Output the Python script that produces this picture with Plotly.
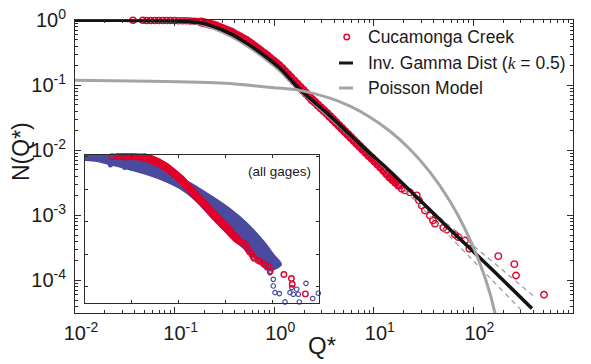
import numpy as np
import plotly.graph_objects as go

# ---------------- data (log10 values) ----------------
# Cucamonga Creek exceedance data, main panel (log10 Q*, log10 N)
# flat part (individual rings)
creek_flat_logq = [-1.418, -1.32, -1.28, -1.24, -1.20, -1.16, -1.12, -1.08, -1.04, -1.00, -0.96, -0.92,
                   -0.88, -0.84, -0.80, -0.76]
creek_flat_logn = [0.0, -0.0005, -0.001, -0.0012, -0.0015, -0.002, -0.0025, -0.003, -0.0035, -0.004,
                   -0.005, -0.006, -0.008, -0.010, -0.013, -0.017]
# dense part (overlapping rings)
creek_dense_logq = [-0.73, -0.70, -0.67, -0.64, -0.61, -0.58, -0.55, -0.52, -0.49, -0.46, -0.43, -0.40, -0.37, -0.34,
                    -0.31, -0.28, -0.25, -0.22, -0.19, -0.16, -0.13, -0.10, -0.07, -0.04, -0.01, 0.02, 0.05, 0.08,
                    0.11, 0.14, 0.17, 0.20, 0.23, 0.26, 0.29, 0.32, 0.35, 0.38, 0.41, 0.44, 0.47, 0.50, 0.53, 0.56,
                    0.59, 0.62, 0.65, 0.68, 0.71, 0.74, 0.77, 0.80, 0.83, 0.86, 0.89, 0.92, 0.95, 0.98, 1.01, 1.04,
                    1.07, 1.10, 1.13, 1.16, 1.19, 1.22, 1.25]
creek_dense_logn = [-0.028, -0.038, -0.049, -0.062, -0.072, -0.089, -0.108, -0.126, -0.146, -0.163, -0.182, -0.208,
                    -0.234, -0.258, -0.285, -0.309, -0.340, -0.374, -0.408, -0.442, -0.477, -0.511, -0.546, -0.585,
                    -0.622, -0.658, -0.697, -0.742, -0.789, -0.837, -0.885, -0.932, -0.980, -1.028, -1.075, -1.123,
                    -1.171, -1.220, -1.262, -1.305, -1.348, -1.391, -1.434, -1.480, -1.526, -1.572, -1.617, -1.663,
                    -1.709, -1.755, -1.802, -1.848, -1.894, -1.940, -1.985, -2.031, -2.077, -2.122, -2.168, -2.214,
                    -2.260, -2.309, -2.360, -2.411, -2.452, -2.494, -2.535]
# tail (separate rings)
creek_tail_logq = [1.280, 1.313, 1.363, 1.431, 1.454, 1.481, 1.514, 1.564, 1.594, 1.614, 1.698, 1.732, 1.815,
                   1.849, 1.916, 1.959, 2.250, 2.411, 2.428, 2.709]
creek_tail_logn = [-2.589, -2.615, -2.646, -2.692, -2.769, -2.846, -2.923, -3.000, -3.077, -3.128, -3.189, -3.220,
                   -3.292, -3.334, -3.385, -3.512, -3.626, -3.749, -3.923, -4.220]

# Inverse gamma distribution fit (k = 0.5)
invgam_logq = [-2.0, -1.548, -1.247, -0.946, -0.745, -0.614, -0.444, -0.273, -0.102, 0.058, 0.209,
               0.359, 0.510, 0.661, 0.811, 0.962, 1.133, 1.394, 1.765, 2.167, 2.588]
invgam_logn = [0.0, 0.0, -0.003, -0.015, -0.038, -0.092, -0.200, -0.354, -0.538, -0.738, -0.985,
               -1.200, -1.400, -1.615, -1.831, -2.046, -2.277, -2.662, -3.215, -3.800, -4.431]

# grey companion fit under the black curve
greyfit_logq = [-2.0, -1.247, -0.745, -0.444, -0.273, -0.102, 0.058, 0.359, 0.661, 0.962, 1.263, 1.464]
greyfit_logn = [0.0, -0.008, -0.062, -0.246, -0.400, -0.585, -0.785, -1.231, -1.646, -2.062, -2.477, -2.769]

# confidence bounds (dashed)
upper_logq = [1.313, 2.598]
upper_logn = [-2.585, -4.231]
lower_logq = [1.313, 2.485]
lower_logn = [-2.615, -4.462]

# Poisson model
poisson_logq = [-2.0, -1.247, -0.494, 0.0, 0.259, 0.560, 0.761, 0.962, 1.163, 1.363, 1.564,
                1.765, 1.916, 2.066, 2.167, 2.217]
poisson_logn = [-0.923, -0.938, -0.969, -1.035, -1.077, -1.197, -1.320, -1.489, -1.705, -1.982, -2.335,
                -2.782, -3.208, -3.738, -4.200, -4.508]

# Inset: all gages (band of points)
band_up_logq = [-2.000, -1.395, -0.682, -0.254, 0.030, 0.387, 0.741, 1.098, 1.455, 1.810, 2.023, 2.167]
band_up_logn = [-0.011, -0.011, -0.020, -0.308, -0.663, -0.968, -1.296, -1.653, -2.091, -2.650, -3.060, -3.314]
band_lo_logq = [-2.000, -1.750, -1.395, -1.038, -0.682, -0.327, 0.030, 0.387, 0.741, 1.098, 1.455, 1.739, 1.953]
band_lo_logn = [-0.072, -0.103, -0.225, -0.357, -0.510, -0.693, -0.938, -1.326, -1.886, -2.396, -2.855, -3.213, -3.467]
gage_open_logq = [1.882, 1.953, 2.023, 2.023, 2.060, 2.152, 2.274, 2.380, 2.417, 2.451, 2.524, 2.558,
                  2.579, 2.722, 2.865, 2.985]
gage_open_logn = [-3.415, -3.568, -3.773, -3.978, -4.179, -4.210, -4.467, -4.179, -4.026, -4.231, -4.078,
                  -4.231, -4.470, -3.895, -4.363, -4.201]
gage_dot_logq = [-1.459, -1.152, -1.011]
gage_dot_logn = [-0.256, -0.338, -0.357]

x_ticks = [-2, -1, 0, 1, 2, 3]
y_ticks = [-4, -3, -2, -1, 0]

# ---------------- style ----------------
W, H = 591, 364
L, R, T, B = 75, 18, 20, 51
RED = "#e2002a"
BLUE = "#4a4a9e"
BLACK = "#141414"
GREY = "#a4a4a4"
AXIS = "#2b2b2b"
FONT = "Liberation Sans, Arial, sans-serif"


def P(v):
    return np.power(10.0, np.asarray(v, dtype=float))


def fx(px):
    return (px - L) / (W - L - R)


def fy(py):
    return (H - B - py) / (H - T - B)


def sup(e):
    return "10<sup>%d</sup>" % e


fig = go.Figure()


def rings(xq, yn, size, width, xa="x", ya="y"):
    return go.Scatter(x=P(xq), y=P(yn), mode="markers",
                      marker=dict(symbol="circle-open", size=size, color=RED, line=dict(width=width)),
                      xaxis=xa, yaxis=ya, cliponaxis=False, showlegend=False)


# main panel
fig.add_trace(rings(creek_flat_logq, creek_flat_logn, 6, 1.5))
fig.add_trace(rings(creek_dense_logq, creek_dense_logn, 6.5, 2.6))
fig.add_trace(rings(creek_tail_logq, creek_tail_logn, 6.5, 1.4))
fig.add_trace(go.Scatter(x=P(greyfit_logq), y=P(greyfit_logn), mode="lines",
                         line=dict(color=GREY, width=2, shape="spline", smoothing=0.8), showlegend=False))
fig.add_trace(go.Scatter(x=P(upper_logq), y=P(upper_logn), mode="lines",
                         line=dict(color="#9a9a9a", width=1.2, dash="5px,4px"), showlegend=False))
fig.add_trace(go.Scatter(x=P(lower_logq), y=P(lower_logn), mode="lines",
                         line=dict(color="#9a9a9a", width=1.2, dash="5px,4px"), showlegend=False))
fig.add_trace(go.Scatter(x=P(invgam_logq), y=P(invgam_logn), mode="lines",
                         line=dict(color=BLACK, width=3.5, shape="spline", smoothing=0.8), showlegend=False))
fig.add_trace(go.Scatter(x=P(poisson_logq), y=P(poisson_logn), mode="lines",
                         line=dict(color=GREY, width=3, shape="spline", smoothing=0.6), showlegend=False))

# inset panel
poly_q = list(band_up_logq) + list(band_lo_logq[::-1])
poly_n = list(band_up_logn) + list(band_lo_logn[::-1])
fig.add_trace(go.Scatter(x=P(poly_q), y=P(poly_n), mode="lines", fill="toself",
                         fillcolor=BLUE, line=dict(color=BLUE, width=4, shape="spline", smoothing=0.6),
                         xaxis="x2", yaxis="y2", showlegend=False))
fig.add_trace(go.Scatter(x=P(gage_dot_logq), y=P(gage_dot_logn), mode="markers",
                         marker=dict(symbol="circle", size=5, color=BLUE),
                         xaxis="x2", yaxis="y2", cliponaxis=False, showlegend=False))
fig.add_trace(go.Scatter(x=P(gage_open_logq), y=P(gage_open_logn), mode="markers",
                         marker=dict(symbol="circle-open", size=4.5, color=BLUE, line=dict(width=1.2)),
                         xaxis="x2", yaxis="y2", cliponaxis=False, showlegend=False))
fig.add_trace(rings(creek_flat_logq, creek_flat_logn, 5.5, 1.4, "x2", "y2"))
fig.add_trace(rings(creek_dense_logq, creek_dense_logn, 6, 2.4, "x2", "y2"))
fig.add_trace(rings(creek_tail_logq, creek_tail_logn, 5.5, 1.4, "x2", "y2"))

axis_common = dict(showline=True, linecolor=AXIS, linewidth=1, mirror="allticks",
                   ticks="inside", tickcolor=AXIS, tickwidth=1, showgrid=False, zeroline=False,
                   automargin=False)

fig.update_layout(
    width=W, height=H,
    margin=dict(l=L, r=R, t=T, b=B, pad=0, autoexpand=False),
    paper_bgcolor="white", plot_bgcolor="white",
    font=dict(family=FONT, color="#1a1a1a"),
    showlegend=False,
    xaxis=dict(type="log", range=[-2, 3], domain=[0, 1], anchor="y",
               tickmode="array", tickvals=P(x_ticks), ticktext=[sup(e) for e in x_ticks],
               tickfont=dict(size=20, family=FONT, color="#1a1a1a"), ticklen=6,
               ticklabelshift=6, ticklabelstandoff=2,
               minor=dict(ticks="inside", ticklen=3, tickcolor=AXIS, dtick="D1", showgrid=False),
               **axis_common),
    yaxis=dict(type="log", range=[-4.5, 0.005], domain=[0, 1], anchor="x",
               tickmode="array", tickvals=P(y_ticks), ticktext=[sup(e) for e in y_ticks],
               tickfont=dict(size=20, family=FONT, color="#1a1a1a"), ticklen=6,
               ticklabelstandoff=4,
               minor=dict(ticks="inside", ticklen=3, tickcolor=AXIS, dtick="D1", showgrid=False),
               **axis_common),
    xaxis2=dict(type="log", range=[-2, 3], domain=[fx(85), fx(319)], anchor="y2",
                dtick=1, ticklen=3, showticklabels=False, **axis_common),
    yaxis2=dict(type="log", range=[-4.5, 0.05], domain=[fy(303), fy(155)], anchor="x2",
                dtick=1, ticklen=3, showticklabels=False, **axis_common),
)

ann = []
ann.append(dict(text="N(Q*)", x=fx(21), y=fy(152), xref="paper", yref="paper", showarrow=False,
                textangle=-90, font=dict(size=23, family=FONT, color="#1a1a1a"),
                xanchor="center", yanchor="middle"))
ann.append(dict(text="Q*", x=fx(322), y=fy(345), xref="paper", yref="paper", showarrow=False,
                font=dict(size=24, family=FONT, color="#1a1a1a"), xanchor="center", yanchor="middle"))
legend_text = ["Cucamonga Creek",
               "Inv. Gamma Dist (<span style='font-family:Liberation Serif'><i>k</i></span> = 0.5)",
               "Poisson Model"]
legend_y = [37, 63, 88]
for t, yy in zip(legend_text, legend_y):
    ann.append(dict(text=t, x=fx(366), y=fy(yy), xref="paper", yref="paper", showarrow=False,
                    font=dict(size=17.5, family=FONT, color="#1a1a1a"), xanchor="left", yanchor="middle"))
ann.append(dict(text="(all gages)", x=fx(313), y=fy(172), xref="paper", yref="paper", showarrow=False,
                font=dict(size=13.5, family=FONT, color="#1a1a1a"), xanchor="right", yanchor="middle"))
fig.update_layout(annotations=ann)

shapes = [
    dict(type="circle", xref="paper", yref="paper", x0=fx(344), x1=fx(349.5), y0=fy(39.7), y1=fy(34.3),
         line=dict(color=RED, width=1.4)),
    dict(type="line", xref="paper", yref="paper", x0=fx(339), x1=fx(353), y0=fy(63), y1=fy(63),
         line=dict(color=BLACK, width=3)),
    dict(type="line", xref="paper", yref="paper", x0=fx(339), x1=fx(353), y0=fy(88), y1=fy(88),
         line=dict(color=GREY, width=3)),
]
fig.update_layout(shapes=shapes)

fig.write_html("out.html")
